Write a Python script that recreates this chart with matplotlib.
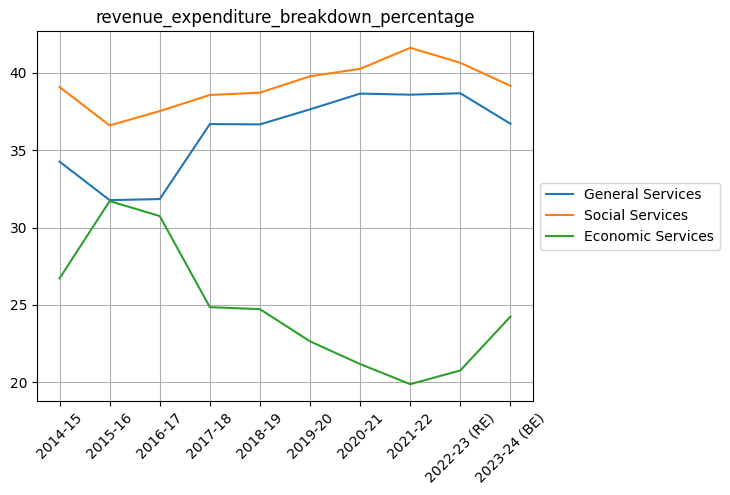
import matplotlib
matplotlib.use("Agg")
import matplotlib.pyplot as plt

years = ["2014-15", "2015-16", "2016-17", "2017-18", "2018-19", "2019-20",
         "2020-21", "2021-22", "2022-23 (RE)", "2023-24 (BE)"]
general = [34.26, 31.77, 31.84, 36.69, 36.67, 37.64, 38.66, 38.59, 38.68, 36.71]
social = [39.09, 36.60, 37.53, 38.57, 38.72, 39.78, 40.26, 41.62, 40.65, 39.16]
economic = [26.71, 31.71, 30.74, 24.85, 24.72, 22.64, 21.17, 19.87, 20.76, 24.24]

fig = plt.figure(figsize=(7.3, 4.95), dpi=100)
ax = fig.add_axes([37/730, 1 - 401/495, (533-37)/730, (401-31)/495])
ax.plot(years, general, label="General Services")
ax.plot(years, social, label="Social Services")
ax.plot(years, economic, label="Economic Services")
ax.set_title("revenue_expenditure_breakdown_percentage")
ax.grid(True)
ax.tick_params(axis="x", rotation=45)
ax.legend(loc="center left", bbox_to_anchor=(1, 0.5))
fig.savefig("out.png", dpi=100)
